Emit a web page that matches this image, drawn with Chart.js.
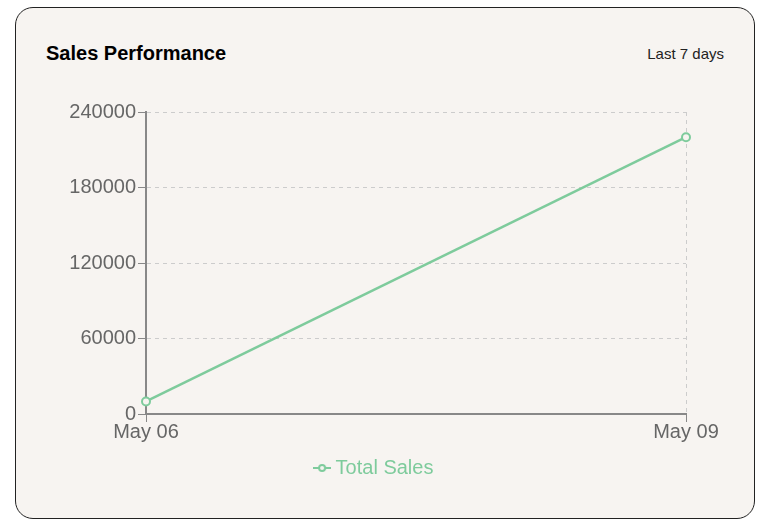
<!DOCTYPE html>
<html>
<head>
<meta charset="utf-8">
<script src="https://cdn.jsdelivr.net/npm/chart.js@4.4.0/dist/chart.umd.min.js"></script>
<style>
  html, body { margin: 0; padding: 0; background: #fff; }
  body { width: 772px; height: 528px; position: relative; font-family: "Liberation Sans", Arial, sans-serif; }
  .card {
    position: absolute; left: 15px; top: 7px; width: 738px; height: 510px;
    border: 1px solid #222; border-radius: 18px; background: #f7f4f1;
  }
  .title { position: absolute; left: 30px; top: 34px; font-size: 20px; font-weight: bold; color: #000; }
  .range { position: absolute; right: 30px; top: 37px; font-size: 15px; color: #222; }
  .chart-wrap { position: absolute; left: 0; top: 90px; width: 720px; height: 390px; }
</style>
</head>
<body>
<div class="card">
  <div class="title">Sales Performance</div>
  <div class="range">Last 7 days</div>
  <div class="chart-wrap"><canvas id="chart"></canvas></div>
</div>
<script>
// chart data
const labels = ['May 06', 'May 09'];
const totalSales = [10000, 220000];
const yTicks = [0, 60000, 120000, 180000, 240000];

const green = 'rgb(126, 203, 156)';
const bg = '#f7f4f1';
const font = { size: 20, family: '"Liberation Sans", Arial, sans-serif' };

// small "-o-" glyph for the legend
function legendGlyph() {
  const c = document.createElement('canvas');
  c.width = 18; c.height = 10;
  const g = c.getContext('2d');
  g.strokeStyle = green;
  g.lineWidth = 2;
  g.beginPath(); g.moveTo(0, 5); g.lineTo(18, 5); g.stroke();
  g.fillStyle = bg;
  g.beginPath(); g.arc(9, 5, 3, 0, Math.PI * 2); g.fill(); g.stroke();
  return c;
}
const glyph = legendGlyph();

new Chart(document.getElementById('chart'), {
  type: 'line',
  data: {
    labels,
    datasets: [{
      label: 'Total Sales',
      data: totalSales,
      borderColor: green,
      backgroundColor: bg,
      borderWidth: 2.5,
      pointRadius: 4,
      pointBorderWidth: 2,
      pointBackgroundColor: bg,
      pointBorderColor: green,
      tension: 0
    }]
  },
  options: {
    responsive: true,
    maintainAspectRatio: false,
    animation: false,
    layout: { padding: { left: 0, right: 0, top: 12, bottom: 0 } },
    plugins: {
      tooltip: { enabled: false },
      legend: {
        position: 'bottom',
        labels: {
          color: green,
          font,
          usePointStyle: true,
          pointStyleWidth: 7,
          padding: 16,
          generateLabels(chart) {
            const items = Chart.defaults.plugins.legend.labels.generateLabels(chart);
            items.forEach((it) => { it.pointStyle = glyph; it.fontColor = green; });
            return items;
          }
        }
      }
    },
    scales: {
      x: {
        offset: false,
        grid: { color: '#ccc', tickColor: '#888', tickLength: 8 },
        border: { color: '#888', width: 2, dash: [4, 4] },
        ticks: { color: '#666', font, padding: -2, maxRotation: 0 }
      },
      y: {
        min: yTicks[0],
        max: yTicks[yTicks.length - 1],
        afterBuildTicks(axis) { axis.ticks = yTicks.map((v) => ({ value: v })); },
        afterFit(scale) { scale.width = 130; },
        grid: { color: '#ccc', tickColor: '#888', tickLength: 8 },
        border: { color: '#888', width: 2, dash: [4, 4] },
        ticks: { color: '#666', font, padding: 2, callback: (v) => String(v) }
      },
      // empty right-hand axis, only reserves space
      yRight: {
        position: 'right',
        afterFit(scale) { scale.width = 50; },
        grid: { display: false },
        border: { display: false },
        ticks: { display: false }
      }
    }
  }
});
</script>
</body>
</html>
